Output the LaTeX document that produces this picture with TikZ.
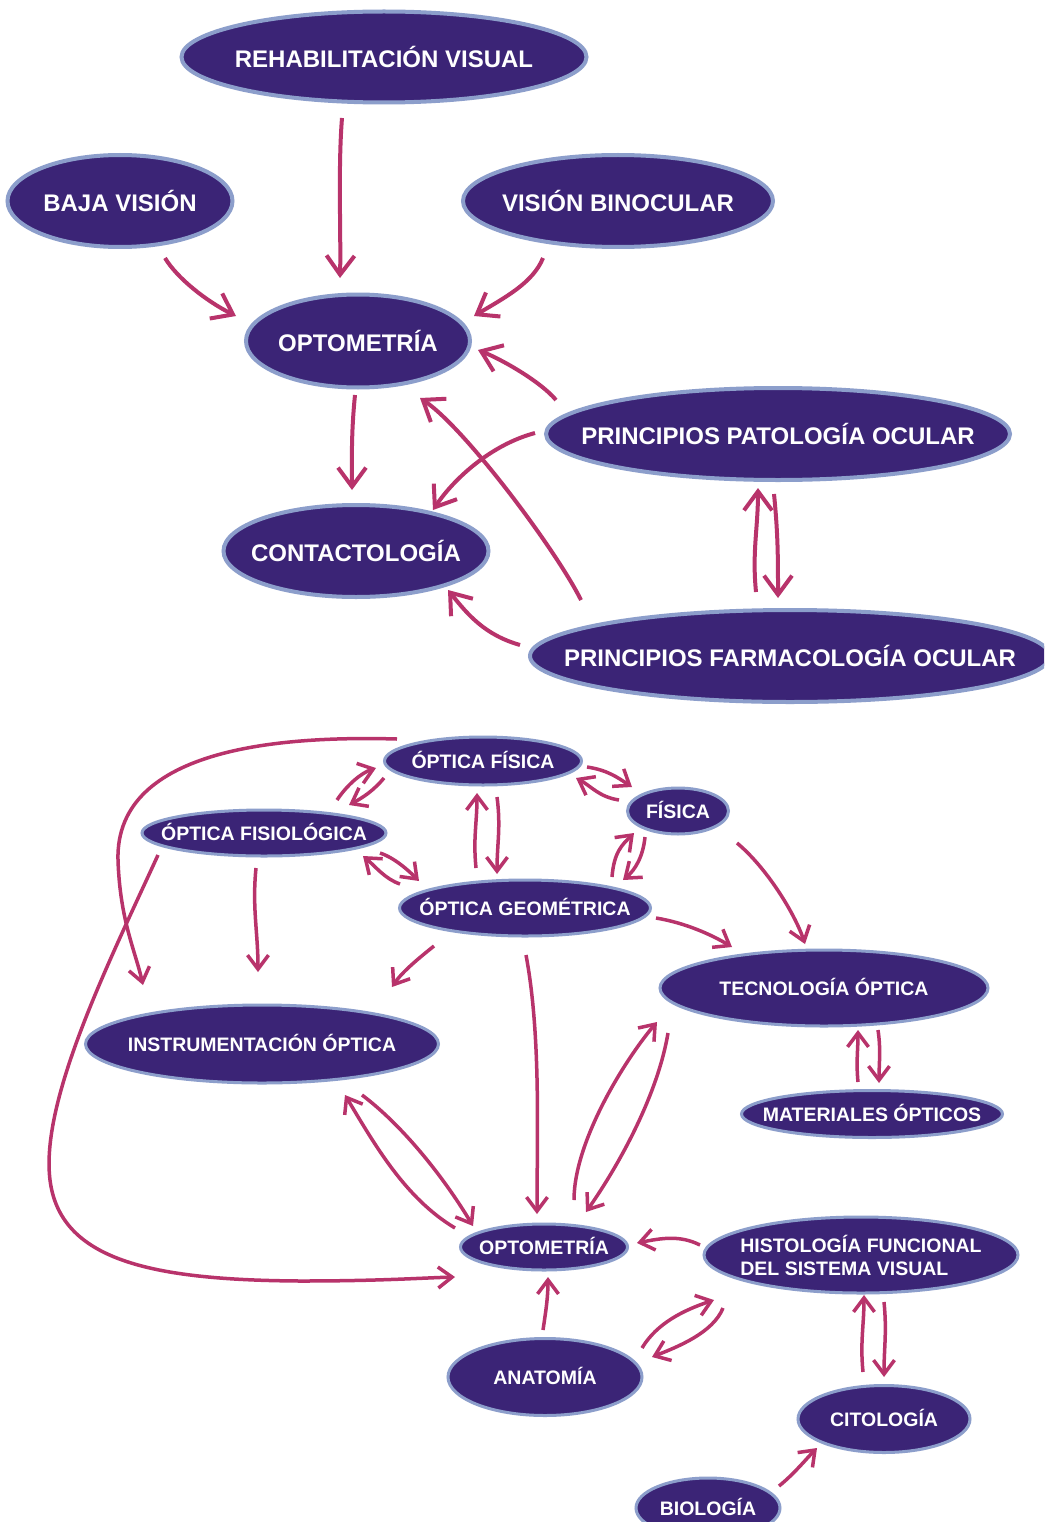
\documentclass[tikz,border=0pt]{standalone}
\usepackage{fontspec}
\setmainfont{Liberation Sans}
\usetikzlibrary{arrows.meta,shapes.geometric}
\definecolor{bubfill}{HTML}{3B2476}
\definecolor{bubline}{HTML}{8C9ECB}
\definecolor{arrcol}{HTML}{B8336B}
\begin{document}
\begin{tikzpicture}[x=1pt,y=-1pt,
 bub/.style={ellipse, draw=bubline, fill=bubfill, inner sep=0pt, outer sep=0pt},
 big/.style={bub, line width=4pt},
 small/.style={bub, line width=3pt},
 labbig/.style={text=white, font=\fontsize{24}{28}\selectfont\bfseries, text height=17.2pt, text depth=0pt, inner sep=0pt, yshift=-1.5pt},
 labsmall/.style={text=white, font=\fontsize{19.5}{23}\selectfont\bfseries, text height=14pt, text depth=0pt, inner sep=0pt, yshift=-0.8pt},
 labtwo/.style={text=white, font=\fontsize{19.5}{23}\selectfont\bfseries, align=left, inner sep=0pt, yshift=-0.8pt},
 arrA/.style={draw=arrcol, line width=4pt, -{Straight Barb[length=19pt,width=28pt]}},
 arrB/.style={draw=arrcol, line width=3.5pt, -{Straight Barb[length=14pt,width=21pt]}},
]
\useasboundingbox (0,0) rectangle (1044,1522);
\fill[white] (0,0) rectangle (1044,1522);
\clip (0,0) rectangle (1044,1522);

% ---------- top map ----------
\node[big, minimum width=405pt, minimum height=91pt, label={[labbig]center:REHABILITACIÓN VISUAL}] (rehab) at (384,57) {};
\node[big, minimum width=225pt, minimum height=92pt, label={[labbig]center:BAJA VISIÓN}] (baja) at (120,201) {};
\node[big, minimum width=310pt, minimum height=92pt, label={[labbig]center:VISIÓN BINOCULAR}] (binoc) at (618,201) {};
\node[big, minimum width=224pt, minimum height=93pt, label={[labbig]center:OPTOMETRÍA}] (optoA) at (358,341) {};
\node[big, minimum width=464pt, minimum height=92pt, label={[labbig]center:PRINCIPIOS PATOLOGÍA OCULAR}] (pato) at (778,434) {};
\node[big, minimum width=265pt, minimum height=92pt, label={[labbig]center:CONTACTOLOGÍA}] (contac) at (356,551) {};
\node[big, minimum width=520pt, minimum height=92pt, label={[labbig]center:PRINCIPIOS FARMACOLOGÍA OCULAR}] (farma) at (790,656) {};

\draw[arrA] ([shift={(-42,61)}]rehab.center) .. controls +(-4,50) and +(1,-45) .. ([shift={(-18,-63)}]optoA.center);
\draw[arrA] ([shift={(45,57)}]baja.center) .. controls +(12,20) and +(-30,-15) .. ([shift={(-122,-25)}]optoA.center);
\draw[arrA] ([shift={(-75,57)}]binoc.center) .. controls +(-10,25) and +(30,-18) .. ([shift={(116,-25)}]optoA.center);
\draw[arrA] ([shift={(-222,-34)}]pato.center) .. controls +(-15,-18) and +(25,10) .. ([shift={(120,9)}]optoA.center);
\draw[arrA] ([shift={(-209,-56)}]farma.center) .. controls +(-25,-50) and +(45,30) .. ([shift={(62,57)}]optoA.center);
\draw[arrA] ([shift={(-3,54)}]optoA.center) .. controls +(-4,40) and +(0,-30) .. ([shift={(-4,-61)}]contac.center);
\draw[arrA] ([shift={(-243,-1)}]pato.center) .. controls +(-45,12) and +(20,-30) .. ([shift={(77,-41)}]contac.center);
\draw[arrA] ([shift={(-34,-64)}]farma.center) .. controls +(-4,-40) and +(0,40) .. ([shift={(-20,54)}]pato.center);
\draw[arrA] ([shift={(-4,60)}]pato.center) .. controls +(4,40) and +(0,-40) .. ([shift={(-12,-58)}]farma.center);
\draw[arrA] ([shift={(-270,-11)}]farma.center) .. controls +(-35,-10) and +(20,25) .. ([shift={(92,39)}]contac.center);

% ---------- bottom map ----------
\node[small, minimum width=197pt, minimum height=48pt, label={[labsmall]center:ÓPTICA FÍSICA}] (ofis) at (483,761) {};
\node[small, minimum width=244pt, minimum height=46pt, label={[labsmall]center:ÓPTICA FISIOLÓGICA}] (ofisio) at (264,833) {};
\node[small, minimum width=101pt, minimum height=46pt, label={[labsmall]center:FÍSICA}] (fisica) at (678,811) {};
\node[small, minimum width=251pt, minimum height=56pt, label={[labsmall]center:ÓPTICA GEOMÉTRICA}] (ogeo) at (525,908) {};
\node[small, minimum width=328pt, minimum height=76pt, label={[labsmall]center:TECNOLOGÍA ÓPTICA}] (tecno) at (824,988) {};
\node[small, minimum width=353pt, minimum height=78pt, label={[labsmall]center:INSTRUMENTACIÓN ÓPTICA}] (instr) at (262,1044) {};
\node[small, minimum width=261pt, minimum height=47pt, label={[labsmall]center:MATERIALES ÓPTICOS}] (mater) at (872,1114) {};
\node[small, minimum width=167pt, minimum height=46pt, label={[labsmall]center:OPTOMETRÍA}] (optoB) at (544,1247) {};
\node[small, minimum width=314pt, minimum height=76pt, label={[labtwo]center:HISTOLOGÍA FUNCIONAL\\DEL SISTEMA VISUAL}] (histo) at (861,1255) {};
\node[small, minimum width=194pt, minimum height=77pt, label={[labsmall]center:ANATOMÍA}] (anat) at (545,1377) {};
\node[small, minimum width=172pt, minimum height=67pt, label={[labsmall]center:CITOLOGÍA}] (cito) at (884,1419) {};
\node[small, minimum width=144pt, minimum height=60pt, label={[labsmall]center:BIOLOGÍA}] (bio) at (708,1508) {};

\draw[arrB] ([shift={(-86,-22)}]ofis.center) .. controls (290,736) and (115,745) .. (118,860) .. controls (120,920) and (135,950) .. ([shift={(-119,-59)}]instr.center);
\draw[arrB] ([shift={(-106,22)}]ofisio.center) .. controls (110,960) and (40,1100) .. (50,1180) .. controls (60,1260) and (150,1280) .. (300,1281) .. controls (380,1281) and (420,1278) .. ([shift={(-89,30)}]optoB.center);
\draw[arrB] ([shift={(73,-33)}]ofisio.center) .. controls +(10,-15) and +(-15,5) .. ([shift={(-107,7)}]ofis.center);
\draw[arrB] ([shift={(-99,17)}]ofis.center) .. controls +(-10,12) and +(15,-8) .. ([shift={(85,-28)}]ofisio.center);
\draw[arrB] ([shift={(-125,-24)}]ogeo.center) .. controls +(-15,-5) and +(12,10) .. ([shift={(99,23)}]ofisio.center);
\draw[arrB] ([shift={(116,20)}]ofisio.center) .. controls +(15,5) and +(-10,-10) .. ([shift={(-106,-27)}]ogeo.center);
\draw[arrB] ([shift={(-49,-40)}]ogeo.center) .. controls +(-3,-30) and +(0,30) .. ([shift={(-6,32)}]ofis.center);
\draw[arrB] ([shift={(14,36)}]ofis.center) .. controls +(4,30) and +(0,-30) .. ([shift={(-28,-34)}]ogeo.center);
\draw[arrB] ([shift={(104,6)}]ofis.center) .. controls +(20,3) and +(-15,-10) .. ([shift={(-46,-24)}]fisica.center);
\draw[arrB] ([shift={(-59,-11)}]fisica.center) .. controls +(-20,-3) and +(15,8) .. ([shift={(93,17)}]ofis.center);
\draw[arrB] ([shift={(87,-31)}]ogeo.center) .. controls +(2,-25) and +(-12,12) .. ([shift={(-44,22)}]fisica.center);
\draw[arrB] ([shift={(-33,26)}]fisica.center) .. controls +(-2,20) and +(12,-10) .. ([shift={(98,-28)}]ogeo.center);
\draw[arrB] ([shift={(59,32)}]fisica.center) .. controls +(30,25) and +(-10,-30) .. ([shift={(-19,-44)}]tecno.center);
\draw[arrB] ([shift={(131,10)}]ogeo.center) .. controls +(30,5) and +(-20,-12) .. ([shift={(-92,-41)}]tecno.center);
\draw[arrB] ([shift={(-8,35)}]ofisio.center) .. controls +(-4,40) and +(0,-40) .. ([shift={(-4,-72)}]instr.center);
\draw[arrB] ([shift={(-91,38)}]ogeo.center) .. controls +(-15,12) and +(10,-15) .. ([shift={(130,-57)}]instr.center);
\draw[arrB] ([shift={(1,47)}]ogeo.center) .. controls +(15,80) and +(0,-80) .. ([shift={(-7,-33)}]optoB.center);
\draw[arrB] ([shift={(30,-47)}]optoB.center) .. controls +(0,-60) and +(-30,35) .. ([shift={(-167,34)}]tecno.center);
\draw[arrB] ([shift={(-156,45)}]tecno.center) .. controls +(-10,60) and +(35,-50) .. ([shift={(42,-35)}]optoB.center);
\draw[arrB] ([shift={(100,51)}]instr.center) .. controls +(40,30) and +(-30,-50) .. ([shift={(-71,-21)}]optoB.center);
\draw[arrB] ([shift={(-89,-19)}]optoB.center) .. controls +(-50,-30) and +(30,50) .. ([shift={(83,51)}]instr.center);
\draw[arrB] ([shift={(-14,-32)}]mater.center) .. controls +(-2,-20) and +(0,20) .. ([shift={(34,42)}]tecno.center);
\draw[arrB] ([shift={(54,42)}]tecno.center) .. controls +(3,20) and +(0,-20) .. ([shift={(7,-31)}]mater.center);
\draw[arrB] ([shift={(-161,-10)}]histo.center) .. controls +(-20,-10) and +(25,-5) .. ([shift={(93,-4)}]optoB.center);
\draw[arrB] ([shift={(-2,-47)}]anat.center) .. controls +(3,-20) and +(0,20) .. ([shift={(4,30)}]optoB.center);
\draw[arrB] ([shift={(97,-29)}]anat.center) .. controls +(15,-25) and +(-30,10) .. ([shift={(-147,45)}]histo.center);
\draw[arrB] ([shift={(-138,53)}]histo.center) .. controls +(-10,25) and +(25,-10) .. ([shift={(107,-20)}]anat.center);
\draw[arrB] ([shift={(-21,-47)}]cito.center) .. controls +(-3,-30) and +(0,30) .. ([shift={(3,40)}]histo.center);
\draw[arrB] ([shift={(23,47)}]histo.center) .. controls +(3,30) and +(0,-30) .. ([shift={(0,-42)}]cito.center);
\draw[arrB] ([shift={(71,-22)}]bio.center) .. controls +(15,-12) and +(-10,10) .. ([shift={(-67,29)}]cito.center);
\end{tikzpicture}
\end{document}
